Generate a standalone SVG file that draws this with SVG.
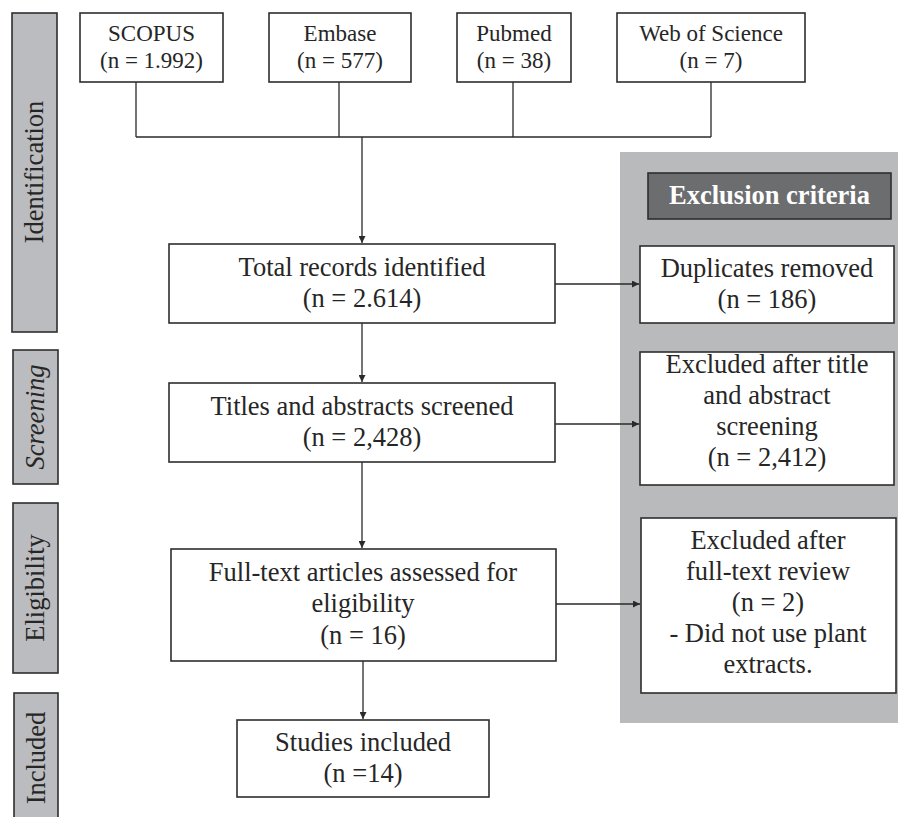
<svg xmlns="http://www.w3.org/2000/svg" width="900" height="817" viewBox="0 0 900 817">
<defs>
<marker id="arr" viewBox="0 0 10 10" refX="10" refY="5" markerWidth="7" markerHeight="7" markerUnits="userSpaceOnUse" orient="auto">
<path d="M0,0 L10,5 L0,10 z" fill="#2a2a2a"/>
</marker>
<style>
.box{fill:#fff;stroke:#2e2e2e;stroke-width:1.6}
.side{fill:#bbbcbf;stroke:#2e2e2e;stroke-width:1.6}
text{font-family:'Liberation Serif','Tinos','Times New Roman','DejaVu Serif',serif}
.t{font-size:26.5px;fill:#262626;text-anchor:middle}
.ts{font-size:23px;fill:#262626;text-anchor:middle}
.ln{fill:none;stroke:#2a2a2a;stroke-width:1.3}
</style>
</defs>
<rect x="0" y="0" width="900" height="817" fill="#fff"/>

<rect id="panel" x="620" y="152" width="278" height="571" fill="#b9babc"/>

<g font-family="Liberation Serif, serif">
<g id="side-identification"><rect class="side" x="12" y="13" width="45" height="319"/><text class="t" transform="translate(43,172) rotate(-90)">Identification</text></g>
<g id="side-screening"><rect class="side" x="13" y="350" width="45" height="134"/><text class="t" font-style="italic" transform="translate(44,417) rotate(-90)">Screening</text></g>
<g id="side-eligibility"><rect class="side" x="13" y="503" width="45" height="170"/><text class="t" transform="translate(44,588) rotate(-90)">Eligibility</text></g>
<g id="side-included"><rect class="side" x="14" y="693" width="44" height="140"/><text class="t" transform="translate(45,758) rotate(-90)">Included</text></g>

<g id="connectors">
<path class="ln" d="M136,82 V137 M339,82 V137 M513,82 V137 M711,82 V137 M136,137 H711"/>
<path class="ln" d="M362,137 V243" marker-end="url(#arr)"/>
<path class="ln" d="M362,323 V382" marker-end="url(#arr)"/>
<path class="ln" d="M362,462 V548" marker-end="url(#arr)"/>
<path class="ln" d="M363,661 V719" marker-end="url(#arr)"/>
<path class="ln" d="M555,284 H639" marker-end="url(#arr)"/>
<path class="ln" d="M555,424 H639" marker-end="url(#arr)"/>
<path class="ln" d="M556,604 H640" marker-end="url(#arr)"/>
</g>

<g id="scopus"><rect class="box" x="80" y="13" width="143" height="69"/><text class="ts" x="151.5" y="41">SCOPUS</text><text class="ts" x="151.5" y="68">(n = 1.992)</text></g>
<g id="embase"><rect class="box" x="269" y="13" width="142" height="69"/><text class="ts" x="340" y="41">Embase</text><text class="ts" x="340" y="68">(n = 577)</text></g>
<g id="pubmed"><rect class="box" x="457" y="13" width="114" height="69"/><text class="ts" x="514" y="41">Pubmed</text><text class="ts" x="514" y="68">(n = 38)</text></g>
<g id="wos"><rect class="box" x="617" y="13" width="188" height="69"/><text class="ts" x="711" y="41">Web of Science</text><text class="ts" x="711" y="68">(n = 7)</text></g>

<g id="total"><rect class="box" x="169" y="244" width="386" height="79"/><text class="t" x="362" y="276">Total records identified</text><text class="t" x="362" y="307">(n = 2.614)</text></g>
<g id="titles"><rect class="box" x="169" y="383" width="386" height="79"/><text class="t" x="362" y="415">Titles and abstracts screened</text><text class="t" x="362" y="446">(n = 2,428)</text></g>
<g id="fulltext"><rect class="box" x="171" y="549" width="385" height="112"/><text class="t" x="363" y="581">Full-text articles assessed for</text><text class="t" x="363" y="612">eligibility</text><text class="t" x="363" y="644">(n = 16)</text></g>
<g id="included"><rect class="box" x="237" y="720" width="252" height="77"/><text class="t" x="363" y="751">Studies included</text><text class="t" x="363" y="782">(n =14)</text></g>

<g id="excl-header"><rect x="648" y="173" width="243" height="46" fill="#6c6d6f" stroke="#2e2e2e" stroke-width="1.6"/><text class="t" x="769.5" y="204" font-weight="bold" style="fill:#fff">Exclusion criteria</text></g>
<g id="duplicates"><rect class="box" x="640" y="246" width="254" height="77"/><text class="t" x="767" y="277">Duplicates removed</text><text class="t" x="767" y="308">(n = 186)</text></g>
<g id="excl-title"><rect class="box" x="640" y="352" width="254" height="133"/><text class="t" x="767" y="373">Excluded after title</text><text class="t" x="767" y="404">and abstract</text><text class="t" x="767" y="435">screening</text><text class="t" x="767" y="466">(n = 2,412)</text></g>
<g id="excl-fulltext"><rect class="box" x="641" y="518" width="255" height="175"/><text class="t" x="768" y="549">Excluded after</text><text class="t" x="768" y="580">full-text review</text><text class="t" x="768" y="611">(n = 2)</text><text class="t" x="768" y="642">- Did not use plant</text><text class="t" x="768" y="673">extracts.</text></g>
</g>
</svg>
